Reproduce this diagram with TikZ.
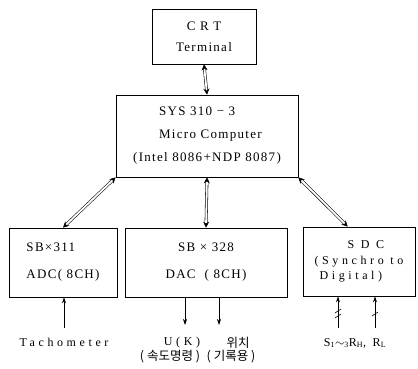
\documentclass[tikz,border=0pt]{standalone}
\usepackage{fontspec}
\setmainfont{Liberation Serif}
\newfontfamily\spacedfont[LetterSpace=10]{Liberation Serif}
\newfontfamily\widefont[LetterSpace=30]{Liberation Serif}
\newfontfamily\krfont{Noto Sans CJK KR}
\usetikzlibrary{arrows.meta, positioning, calc}

\begin{document}
\begin{tikzpicture}[x=1pt, y=-1pt,
  node distance=3pt,
  unitbox/.style={rectangle, draw, line width=0.7pt, inner sep=0pt, align=center,
               font=\fontsize{13}{16}\selectfont\spacedfont},
  bus/.style={double, double distance=1.8pt, line width=0.55pt,
              {Stealth[length=6pt, width=6pt]}-{Stealth[length=6pt, width=6pt]}},
  sig/.style={-{Stealth[length=6pt, width=4pt]}, line width=0.7pt},
  tick/.style={line width=0.6pt},
  lbl/.style={font=\fontsize{12}{14}\selectfont\widefont, inner sep=0pt},
  krlbl/.style={font=\fontsize{12.5}{14}\selectfont\krfont, inner sep=0pt}
]
  \useasboundingbox (0,0) rectangle (418,369);

  \node[unitbox, minimum width=104pt, minimum height=55pt] (crt) at (204,36.5)
    {C R T\\[5pt]Terminal};
  \node[unitbox, align=left, minimum width=182pt, minimum height=82pt] (sys) at (207,136)
    {\hspace*{26pt}SYS 310 − 3\\[7pt]\hspace*{26pt}Micro Computer\\[7pt](Intel 8086+NDP 8087)};
  \node[unitbox, align=left, minimum width=108pt, minimum height=69pt] (adc) at (63,262.5)
    {SB×311\\[11pt]ADC( 8CH)};
  \node[unitbox, minimum width=162pt, minimum height=69pt] (dac) at (206,262.5)
    {SB × 328\\[11pt]DAC\ \ ( 8CH)};
  \node[unitbox, align=left, minimum width=112pt, minimum height=69pt,
        font=\fontsize{12}{16.5}\selectfont\widefont] (sdc) at (359,261.5)
    {\hspace*{33pt}S D C\\[-1pt](Synchro to\\[-1pt]\hspace*{5pt}Digital)};

  \draw[bus] (crt.south) -- (sys.north);
  \draw[bus] (sys.south west) -- (adc.north);
  \draw[bus] (sys.south) -- (dac.north);
  \draw[bus] (sys.south east) -- ($(sdc.north west)!0.4!(sdc.north east)$);

  % tachometer input
  \coordinate (tin) at (64,328);
  \draw[sig] (tin) -- (tin |- adc.south);
  \node[lbl, below=10pt of tin] (tacho) {Tachometer};

  % DAC outputs
  \coordinate (uout) at (185,325);
  \coordinate (pout) at (219,325);
  \draw[sig] (uout |- dac.south) -- (uout);
  \draw[sig] (pout |- dac.south) -- (pout);
  \node[lbl] (uk) at (182,343) {U(K)};
  \node[krlbl] (pos) at (238,343) {위치};
  \node[krlbl] (spd) at (170,357) {( 속도명령 )};
  \node[krlbl] (rec) at (231,357) {( 기록용 )};

  % synchro inputs
  \coordinate (sin) at (338,328);
  \coordinate (rin) at (375,328);
  \draw[sig] (sin) -- (sin |- sdc.south);
  \draw[sig] (rin) -- (rin |- sdc.south);
  \draw[tick] ($(sin)+(-3,-10)$) -- ++(6,-4);
  \draw[tick] ($(sin)+(-3,-15)$) -- ++(6,-4);
  \draw[tick] ($(rin)+(-3,-12)$) -- ++(6,-4);
  \node[lbl] (syn) at (355,343)
    {S\textsubscript{1}$\sim$\textsubscript{3}R\textsubscript{H}, R\textsubscript{L}};
\end{tikzpicture}
\end{document}
